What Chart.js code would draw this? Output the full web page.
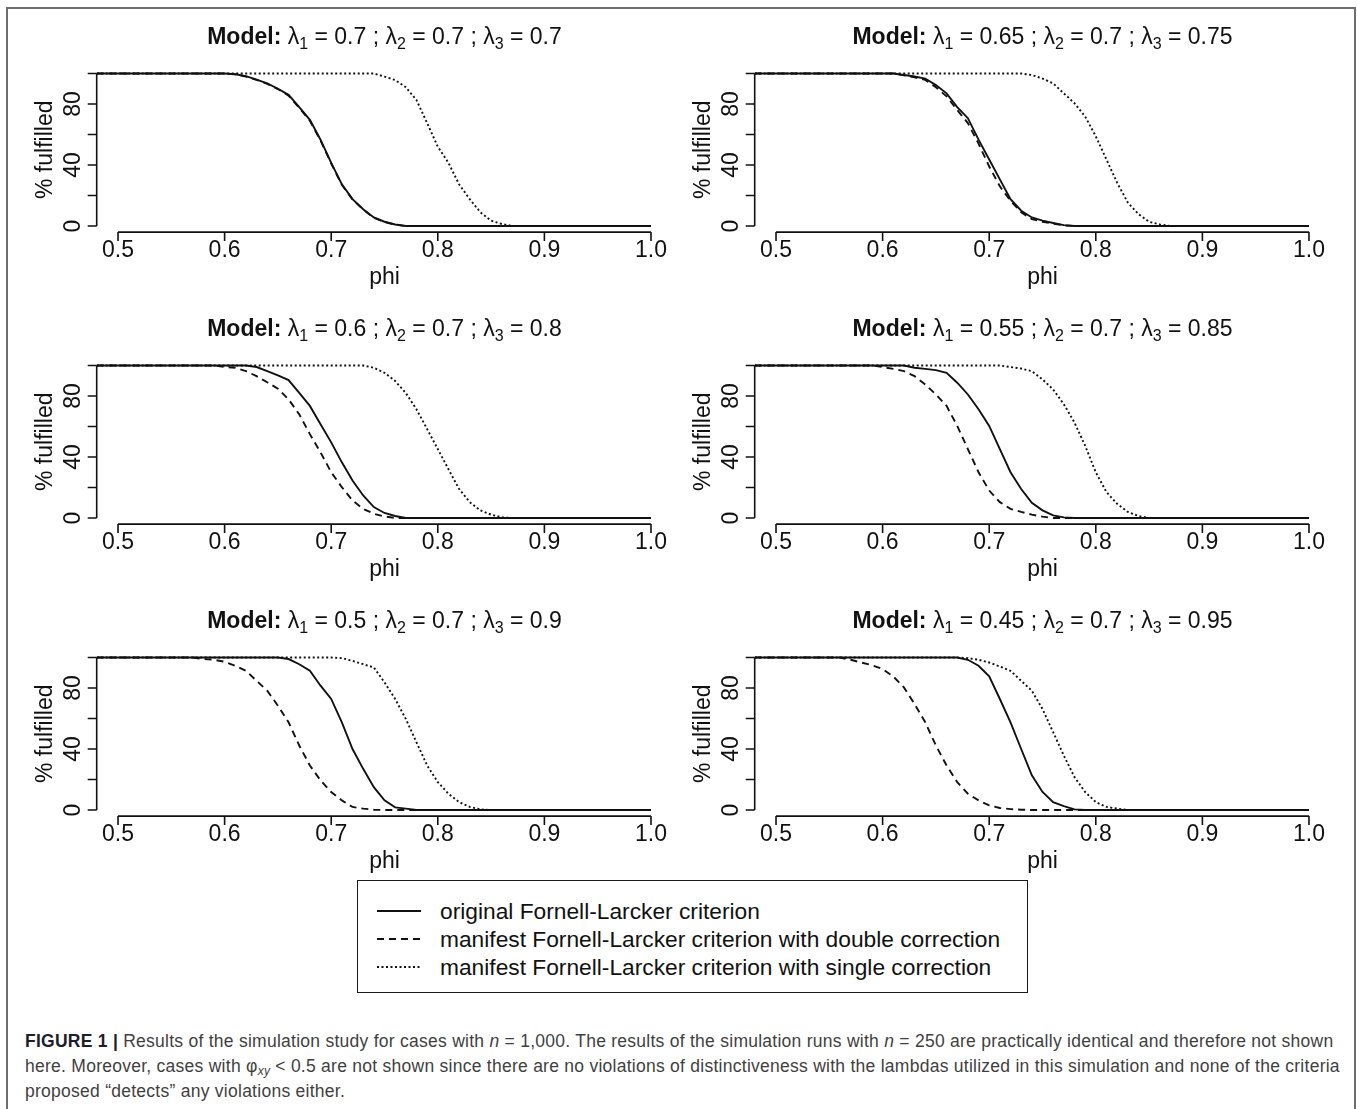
<!DOCTYPE html>
<html>
<head>
<meta charset="utf-8">
<script src="https://cdn.jsdelivr.net/npm/chart.js@4.4.1/dist/chart.umd.min.js"></script>
<style>
  html, body { margin: 0; padding: 0; background: #fff; }
  body { width: 1357px; height: 1109px; position: relative; overflow: hidden;
         font-family: "Liberation Sans", Arial, sans-serif; }
  #frame { position: absolute; left: 6px; top: 7px; width: 1346px; height: 1130px;
           border: 2px solid #6e6e6e; }
  .panel { position: absolute; }
  #legend { position: absolute; left: 357px; top: 880px; width: 669px; height: 111px;
            border: 1.5px solid #1a1a1a; }
  #legend .item { position: absolute; left: 0; height: 28px; width: 660px; }
  #legend svg { position: absolute; left: 19px; top: 12px; }
  #legend span { position: absolute; left: 82px; top: 0; font-size: 22.75px; line-height: 28px;
                 color: #111; white-space: nowrap; }
  #caption { position: absolute; left: 25px; top: 1029px; font-size: 17.5px; letter-spacing: 0.26px;
             line-height: 25px; color: #3f3f3f; white-space: nowrap; }
  #caption b { color: #1d1d2b; }
  #caption sub { font-size: 12px; vertical-align: -3px; line-height: 0; font-style: italic; }
</style>
</head>
<body>
<div id="frame"></div>
<div id="legend"></div>
<div id="caption"><b>FIGURE 1 |</b> Results of the simulation study for cases with <i>n</i> = 1,000. The results of the simulation runs with <i>n</i> = 250 are practically identical and therefore not shown<br>here. Moreover, cases with φ<sub>xy</sub> &lt; 0.5 are not shown since there are no violations of distinctiveness with the lambdas utilized in this simulation and none of the criteria<br>proposed “detects” any violations either.</div>

<script>
/* ── DATOS ─────────────────────────────────── */

// phi (eje x)
const PHI = [
  0.48, 0.49, 0.50, 0.51, 0.52, 0.53, 0.54, 0.55, 0.56, 0.57,
  0.58, 0.59, 0.60, 0.61, 0.62, 0.63, 0.64, 0.65, 0.66, 0.67,
  0.68, 0.69, 0.70, 0.71, 0.72, 0.73, 0.74, 0.75, 0.76, 0.77,
  0.78, 0.79, 0.80, 0.81, 0.82, 0.83, 0.84, 0.85, 0.86, 0.87,
  0.88, 0.89, 0.90, 0.91, 0.92, 0.93, 0.94, 0.95, 0.96, 0.97,
  0.98, 0.99, 1.00
];

const X_TICKS = [0.5, 0.6, 0.7, 0.8, 0.9, 1.0];
const X_LABELS = ["0.5", "0.6", "0.7", "0.8", "0.9", "1.0"];
const Y_TICKS = [0, 20, 40, 60, 80, 100];
const Y_LABELS = [0, 40, 80];

// lambdas de cada modelo (orden: fila por fila)
const LAMBDA_1 = ["0.7", "0.65", "0.6", "0.55", "0.5", "0.45"];
const LAMBDA_2 = ["0.7", "0.7", "0.7", "0.7", "0.7", "0.7"];
const LAMBDA_3 = ["0.7", "0.75", "0.8", "0.85", "0.9", "0.95"];

const LEGEND_LABELS = [
  "original Fornell-Larcker criterion",
  "manifest Fornell-Larcker criterion with double correction",
  "manifest Fornell-Larcker criterion with single correction"
];

// % fulfilled — original (línea continua)
const ORIG_1 = [100,100,100,100,100,100,100,100,100,100,100,100,100,
  99.5,98.3,96,93.5,90,86,78,69.6,56.6,41.4,27.3,17.6,11,5.6,2.8,1,
  0,0,0,0,0,0,0,0,0,0,0,0,0,0,0,0,0,0,0,0,0,0,0,0];
const ORIG_2 = [100,100,100,100,100,100,100,100,100,100,100,100,100,100,
  99,98,96.7,92.4,87,78,70.7,56.6,43.6,30.6,17.6,10,5.6,3.5,2,0.6,
  0,0,0,0,0,0,0,0,0,0,0,0,0,0,0,0,0,0,0,0,0,0,0];
const ORIG_3 = [100,100,100,100,100,100,100,100,100,100,100,100,100,100,100,
  99,96.3,93.5,90.4,82,73.5,61.5,49.6,36.5,24.6,14.8,7.2,3.3,1.3,
  0,0,0,0,0,0,0,0,0,0,0,0,0,0,0,0,0,0,0,0,0,0,0,0];
const ORIG_4 = [100,100,100,100,100,100,100,100,100,100,100,100,100,100,100,
  98.5,97.8,97,95.2,88.7,81,71.3,60.4,45.2,30,19,10,5,1.7,0.4,
  0,0,0,0,0,0,0,0,0,0,0,0,0,0,0,0,0,0,0,0,0,0,0];
const ORIG_5 = [100,100,100,100,100,100,100,100,100,100,100,100,100,100,100,100,100,100,
  99,95.6,91.3,81.5,72.8,57.5,40,27,15,6.3,1.7,0.9,
  0,0,0,0,0,0,0,0,0,0,0,0,0,0,0,0,0,0,0,0,0,0,0];
const ORIG_6 = [100,100,100,100,100,100,100,100,100,100,100,100,100,100,100,100,100,100,100,100,
  98.5,94.6,87.6,72.8,57.5,40,22.7,11.8,5.2,2.6,0.4,
  0,0,0,0,0,0,0,0,0,0,0,0,0,0,0,0,0,0,0,0,0,0];

// % fulfilled — manifiesto, doble corrección (discontinua)
const DOUBLE_1 = [100,100,100,100,100,100,100,100,100,100,100,100,100,
  99.4,98,95.8,93.2,89.8,85.5,77.5,69,56,41,27,17.4,10.8,5.4,2.6,0.9,
  0,0,0,0,0,0,0,0,0,0,0,0,0,0,0,0,0,0,0,0,0,0,0,0];
const DOUBLE_2 = [100,100,100,100,100,100,100,100,100,100,100,100,100,100,
  98.8,97.5,95.8,91,85,76,67.5,54,39,26,16.5,9,4.5,2.8,1.5,0.4,
  0,0,0,0,0,0,0,0,0,0,0,0,0,0,0,0,0,0,0,0,0,0,0];
const DOUBLE_3 = [100,100,100,100,100,100,100,100,100,100,100,100,
  99,98.5,96.3,93,89,84.8,77.8,68,55,43,30,20.2,11.5,6,2.8,1,
  0,0,0,0,0,0,0,0,0,0,0,0,0,0,0,0,0,0,0,0,0,0,0,0,0];
const DOUBLE_4 = [100,100,100,100,100,100,100,100,100,100,100,100,
  99,97.8,96.3,93,87.6,81,73.5,60.4,45.2,30,18,10.4,6,4,2.2,0.9,
  0,0,0,0,0,0,0,0,0,0,0,0,0,0,0,0,0,0,0,0,0,0,0,0,0];
const DOUBLE_5 = [100,100,100,100,100,100,100,100,100,100,
  99,98.5,97.2,94.6,91.3,84.7,78.2,68.4,57.5,42.3,29.2,19.4,11.8,6.3,2,0.9,0.2,
  0,0,0,0,0,0,0,0,0,0,0,0,0,0,0,0,0,0,0,0,0,0,0,0,0,0];
const DOUBLE_6 = [100,100,100,100,100,100,100,100,100,
  98.5,96.7,95,92.4,87.6,80.4,69.5,57.5,42.3,29.2,18.3,10.7,6.3,3,1.3,0.6,0.2,
  0,0,0,0,0,0,0,0,0,0,0,0,0,0,0,0,0,0,0,0,0,0,0,0,0,0,0];

// % fulfilled — manifiesto, corrección simple (punteada)
const SINGLE_1 = [100,100,100,100,100,100,100,100,100,100,100,100,100,100,100,100,100,100,100,100,100,100,100,100,100,100,100,
  98,95.7,91,82.6,67.5,52,41.4,27.3,17.6,9,3.5,1.3,
  0,0,0,0,0,0,0,0,0,0,0,0,0,0];
const SINGLE_2 = [100,100,100,100,100,100,100,100,100,100,100,100,100,100,100,100,100,100,100,100,100,100,100,100,100,100,
  99,96.7,93.5,87,80.5,71.8,58.8,43.6,28.4,15.4,7.8,2.8,1,
  0,0,0,0,0,0,0,0,0,0,0,0,0,0];
const SINGLE_3 = [100,100,100,100,100,100,100,100,100,100,100,100,100,100,100,100,100,100,100,100,100,100,100,100,100,100,
  98.5,95.2,89.8,82,71.3,58.3,45.2,32,19,10.4,5,2.2,0.4,
  0,0,0,0,0,0,0,0,0,0,0,0,0,0];
const SINGLE_4 = [100,100,100,100,100,100,100,100,100,100,100,100,100,100,100,100,100,100,100,100,100,100,100,100,
  99,98,96.3,90.9,84.3,74.6,62.6,47.4,30,17,9.3,4,1.3,
  0,0,0,0,0,0,0,0,0,0,0,0,0,0,0,0];
const SINGLE_5 = [100,100,100,100,100,100,100,100,100,100,100,100,100,100,100,100,100,100,100,100,100,100,100,
  99.6,97.8,95.6,93.5,83.7,72.8,59.7,44.4,29.2,18.3,10.7,5.2,2,0.4,
  0,0,0,0,0,0,0,0,0,0,0,0,0,0,0,0];
const SINGLE_6 = [100,100,100,100,100,100,100,100,100,100,100,100,100,100,100,100,100,100,100,100,
  99.6,98.5,96.7,94.1,91.3,84.7,78.2,66.2,51,35.7,21.6,11.8,5.2,2,0.9,
  0,0,0,0,0,0,0,0,0,0,0,0,0,0,0,0,0,0];

const ORIG = [ORIG_1, ORIG_2, ORIG_3, ORIG_4, ORIG_5, ORIG_6];
const DOUBLE = [DOUBLE_1, DOUBLE_2, DOUBLE_3, DOUBLE_4, DOUBLE_5, DOUBLE_6];
const SINGLE = [SINGLE_1, SINGLE_2, SINGLE_3, SINGLE_4, SINGLE_5, SINGLE_6];

/* ── ESTILO ────────────────────────────────── */

const INK = "#111";
const LINE_W = 1.9;
const DASH = { orig: [], double: [7, 5], single: [2, 2.5] };
const FONT = '23px "Liberation Sans", Arial, sans-serif';
const FONT_BOLD = 'bold 23px "Liberation Sans", Arial, sans-serif';
const FONT_SUB = '16px "Liberation Sans", Arial, sans-serif';

// geometría: columna → borde izquierdo del lienzo y padding
const COLS = [
  { left: 10, padL: 86.7, padR: 7.7 },
  { left: 680, padL: 74.7, padR: 19.7 }
];
const ROW_STEP = 292;
const CANVAS_W = 670, CANVAS_H = 290;

/* ── PLUGIN: ejes al estilo R ──────────────── */

const rAxes = {
  id: "rAxes",
  afterDraw(chart) {
    const { ctx, chartArea: a, scales: { x, y } } = chart;
    const idx = chart.options.plugins.rAxes.index;
    const TICK = 9;
    ctx.save();
    ctx.strokeStyle = INK;
    ctx.fillStyle = INK;
    ctx.lineWidth = 1.6;

    // eje y
    ctx.beginPath();
    ctx.moveTo(a.left, y.getPixelForValue(0));
    ctx.lineTo(a.left, y.getPixelForValue(100));
    Y_TICKS.forEach(v => {
      const py = y.getPixelForValue(v);
      ctx.moveTo(a.left, py);
      ctx.lineTo(a.left - TICK, py);
    });
    // eje x
    ctx.moveTo(x.getPixelForValue(X_TICKS[0]), a.bottom);
    ctx.lineTo(x.getPixelForValue(X_TICKS[X_TICKS.length - 1]), a.bottom);
    X_TICKS.forEach(v => {
      const px = x.getPixelForValue(v);
      ctx.moveTo(px, a.bottom);
      ctx.lineTo(px, a.bottom + TICK);
    });
    ctx.stroke();

    // etiquetas x
    ctx.font = FONT;
    ctx.textAlign = "center";
    ctx.textBaseline = "middle";
    X_TICKS.forEach((v, i) => ctx.fillText(X_LABELS[i], x.getPixelForValue(v), a.bottom + 19));
    ctx.fillText("phi", (x.getPixelForValue(X_TICKS[0]) + x.getPixelForValue(1.0)) / 2, a.bottom + 46);

    // etiquetas y (rotadas)
    const cy = (a.top + a.bottom) / 2;
    Y_LABELS.forEach(v => {
      ctx.save();
      ctx.translate(a.left - 23, y.getPixelForValue(v));
      ctx.rotate(-Math.PI / 2);
      ctx.fillText(String(v), 0, 0);
      ctx.restore();
    });
    ctx.save();
    ctx.translate(a.left - 51, cy);
    ctx.rotate(-Math.PI / 2);
    ctx.fillText("% fulfilled", 0, 0);
    ctx.restore();

    // título
    const parts = [
      ["Model: ", FONT_BOLD, 0],
      ["λ", FONT, 0], ["1", FONT_SUB, 5], [" = " + LAMBDA_1[idx] + " ; ", FONT, 0],
      ["λ", FONT, 0], ["2", FONT_SUB, 5], [" = " + LAMBDA_2[idx] + " ; ", FONT, 0],
      ["λ", FONT, 0], ["3", FONT_SUB, 5], [" = " + LAMBDA_3[idx], FONT, 0]
    ];
    let total = 0;
    parts.forEach(p => { ctx.font = p[1]; total += ctx.measureText(p[0]).width; });
    let tx = (a.left + a.right) / 2 - total / 2;
    const base = a.top - 23.5;
    ctx.textAlign = "left";
    ctx.textBaseline = "alphabetic";
    parts.forEach(p => {
      ctx.font = p[1];
      ctx.fillText(p[0], tx, base + p[2]);
      tx += ctx.measureText(p[0]).width;
    });
    ctx.restore();
  }
};

/* ── GRÁFICOS ──────────────────────────────── */

function serie(label, values, dash) {
  return {
    label,
    data: PHI.map((p, i) => ({ x: p, y: values[i] })),
    borderColor: INK,
    borderWidth: LINE_W,
    borderDash: dash,
    pointRadius: 0,
    tension: 0,
    fill: false
  };
}

function initPanel(i) {
  const col = COLS[i % 2];
  const row = Math.floor(i / 2);
  const canvas = document.createElement("canvas");
  canvas.className = "panel";
  canvas.width = CANVAS_W;
  canvas.height = CANVAS_H;
  canvas.style.left = col.left + "px";
  canvas.style.top = (8 + row * ROW_STEP) + "px";
  canvas.style.width = CANVAS_W + "px";
  canvas.style.height = CANVAS_H + "px";
  document.body.appendChild(canvas);

  new Chart(canvas.getContext("2d"), {
    type: "line",
    data: {
      datasets: [
        serie(LEGEND_LABELS[0], ORIG[i], DASH.orig),
        serie(LEGEND_LABELS[1], DOUBLE[i], DASH.double),
        serie(LEGEND_LABELS[2], SINGLE[i], DASH.single)
      ]
    },
    options: {
      responsive: false,
      animation: false,
      devicePixelRatio: 1,
      layout: { padding: { left: col.padL, right: col.padR, top: 59.4, bottom: 65.9 } },
      plugins: { legend: { display: false }, tooltip: { enabled: false }, rAxes: { index: i } },
      scales: {
        x: { type: "linear", min: 0.48, max: 1.02, display: false },
        y: { type: "linear", min: -4, max: 104, display: false }
      }
    },
    plugins: [rAxes]
  });
}

function initLegend() {
  const box = document.getElementById("legend");
  const dashes = [DASH.orig, DASH.double, DASH.single];
  LEGEND_LABELS.forEach((txt, k) => {
    const item = document.createElement("div");
    item.className = "item";
    item.style.top = (16 + k * 28) + "px";
    const da = dashes[k].length ? ` stroke-dasharray="${dashes[k].join(" ")}"` : "";
    item.innerHTML = `<svg width="44" height="4"><line x1="0" y1="2" x2="44" y2="2" stroke="${INK}" stroke-width="${LINE_W}"${da}/></svg><span>${txt}</span>`;
    box.appendChild(item);
  });
}

[...ORIG, ...DOUBLE, ...SINGLE].forEach((s, k) => {
  if (s.length !== PHI.length) console.warn("serie", k, "longitud", s.length);
});

for (let i = 0; i < 6; i++) initPanel(i);
initLegend();
</script>
</body>
</html>
